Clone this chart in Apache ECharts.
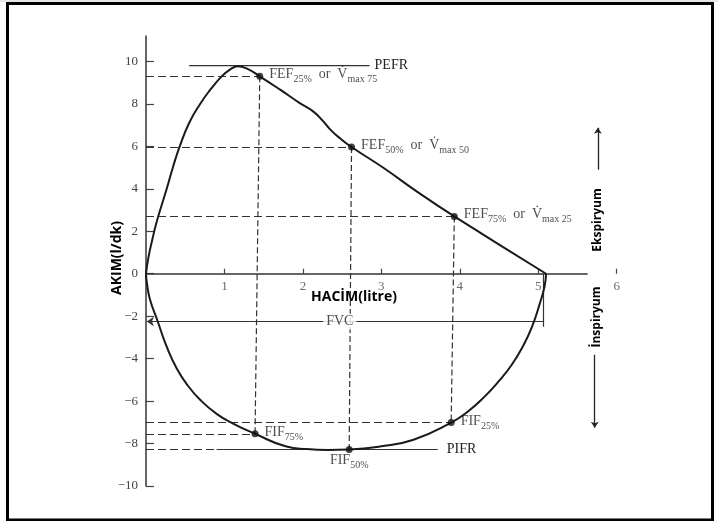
<!DOCTYPE html>
<html>
<head>
<meta charset="utf-8">
<script src="https://cdn.jsdelivr.net/npm/echarts@6/dist/echarts.min.js"></script>
<style>html,body{margin:0;padding:0;background:#fff}#c{width:718px;height:521px}</style>
</head>
<body>
<div id="c"></div>
<script>
// ---- data (volume in litres, flow) ----
const expiratory = [[0,0],[0.03,0.75],[0.08,1.6],[0.14,2.5],[0.264,4.0],[0.35,5.1],[0.43,6.0],[0.55,7.1],[0.69,8.0],[0.82,8.67],[0.965,9.3],[1.07,9.62],[1.17,9.78],[1.30,9.64],[1.45,9.30],[1.71,8.67],[1.96,8.04],[2.13,7.65],[2.26,7.18],[2.35,6.79],[2.47,6.39],[2.62,5.97],[3.03,4.98],[3.45,3.88],[3.93,2.70],[5.1,0]];
const inspiratory = [[0,0],[0.01,-0.4],[0.05,-1.2],[0.15,-2.25],[0.26,-3.4],[0.39,-4.45],[0.54,-5.3],[0.69,-5.94],[0.9,-6.6],[1.11,-7.06],[1.39,-7.54],[1.79,-8.14],[2.05,-8.26],[2.32,-8.3],[2.59,-8.28],[2.98,-8.14],[3.41,-7.82],[3.89,-7.01],[4.1,-6.5],[4.3,-5.85],[4.5,-5.05],[4.66,-4.3],[4.8,-3.45],[4.92,-2.5],[5.02,-1.4],[5.08,-0.6],[5.1,0]];
const fefPoints = [[1.45,9.30],[2.62,5.97],[3.93,2.70]];
const fefPct = ['25%','50%','75%'];
const fefVmax = ['max 75','max 50','max 25'];
const fifPoints = [[1.39,-7.54],[2.59,-8.28],[3.89,-7.01]];
const fifPct = ['75%','50%','25%'];
const pefrLine = [[0.55,9.8],[2.85,9.8]];
const pifrLine = [[0.9,-8.28],[3.72,-8.28]];
const fvcLine = [[0.01,-2.25],[5.07,-2.25]];
const fvcEnd = [[5.07,0],[5.07,-2.5]];
const fvcLabelAt = [2.47,-2.25];
const xAxisLine = [[0,0],[5.63,0]];
const expArrow = [[5.76,4.9],[5.76,6.88]];
const inspArrow = [[5.72,-3.82],[5.72,-7.26]];
const xTicks = [1,2,3,4,5,6];
const yTicks = [-10,-8,-6,-4,-2,0,2,4,6,8,10];

const SERIF = 'Liberation Serif';
const INK = '#1a1a1a';

const hDash = [], vDash = [];
fefPoints.forEach((p,i)=>{ hDash.push({coords:[[0,p[1]],p]}); vDash.push({coords:[p,fifPoints[i]]}); });
fifPoints.forEach(p=>{ hDash.push({coords:[[0,p[1]],p]}); });

const rich = {
  m:{fontFamily:SERIF,fontSize:14,color:'#222',lineHeight:14,verticalAlign:'top'},
  s:{fontFamily:SERIF,fontSize:10,color:'#222',lineHeight:24}
};

const chart = echarts.init(document.getElementById('c'));
chart.setOption({
  backgroundColor:'#fff',
  animation:false,
  grid:{left:146,right:101.3,top:36,bottom:35},
  xAxis:{type:'value',min:0,max:6,
    axisLine:{show:true,onZero:true,lineStyle:{color:'rgba(0,0,0,0)'}},
    axisTick:{show:true,inside:true,length:5,customValues:xTicks,lineStyle:{color:'#444',width:1.2}},
    axisLabel:{show:false},
    splitLine:{show:false}},
  yAxis:{type:'value',min:-10,max:11.2,
    axisLine:{show:true,lineStyle:{color:'#333',width:1.5}},
    axisTick:{show:true,inside:true,length:8,customValues:yTicks,lineStyle:{color:'#444',width:1.2}},
    axisLabel:{customValues:yTicks,margin:8,fontFamily:SERIF,fontSize:13,color:'#444',
      formatter:v=>v<0?'\u2212'+(-v):String(v)},
    splitLine:{show:false}},
  series:[
    {type:'lines',coordinateSystem:'cartesian2d',data:hDash,symbol:'none',z:2,
      lineStyle:{color:'#333',width:1.2,type:[8,4],opacity:1}},
    {type:'lines',coordinateSystem:'cartesian2d',data:vDash,symbol:'none',z:2,
      lineStyle:{color:'#333',width:1.2,type:[6,3],opacity:1}},
    {type:'lines',coordinateSystem:'cartesian2d',data:[{coords:xAxisLine}],symbol:'none',z:3,
      lineStyle:{color:'#333',width:1.5,opacity:1}},
    {type:'scatter',data:xTicks.map(v=>[v,0]),symbolSize:0,z:4,silent:true,
      label:{show:true,position:'bottom',distance:6,formatter:p=>String(p.value[0]),
        fontFamily:SERIF,fontSize:13,color:'#444'}},
    {type:'line',data:pefrLine,showSymbol:false,symbol:'none',z:3,
      lineStyle:{color:'#333',width:1.2},
      endLabel:{show:true,formatter:'PEFR',distance:5,fontFamily:SERIF,fontSize:14,color:'#222'}},
    {type:'line',data:pifrLine,showSymbol:false,symbol:'none',z:3,
      lineStyle:{color:'#333',width:1.2},
      endLabel:{show:true,formatter:'PIFR',distance:9,fontFamily:SERIF,fontSize:14,color:'#222'}},
    {type:'lines',coordinateSystem:'cartesian2d',data:[{coords:fvcLine}],symbol:['arrow','none'],symbolSize:7,z:3,
      lineStyle:{color:'#333',width:1.2,opacity:1}},
    {type:'lines',coordinateSystem:'cartesian2d',data:[{coords:fvcEnd}],symbol:'none',z:3,
      lineStyle:{color:'#333',width:1.2,opacity:1}},
    {type:'scatter',data:[fvcLabelAt],symbolSize:0,z:6,
      label:{show:true,position:'inside',formatter:'FVC',fontFamily:SERIF,fontSize:14,color:'#222',
        backgroundColor:'#fff',padding:[1,3]}},
    {type:'line',data:expiratory,smooth:0.5,symbol:'none',z:5,lineStyle:{color:INK,width:2}},
    {type:'line',data:inspiratory,smooth:0.5,symbol:'none',z:5,lineStyle:{color:INK,width:2}},
    {type:'scatter',symbolSize:7,z:7,itemStyle:{color:'#111'},
      data:fefPoints.map((p,i)=>({value:p,label:{formatter:'{m|FEF}{s|'+fefPct[i]+'}{m|  or  V\u0307}{s|'+fefVmax[i]+'}'}})),
      label:{show:true,position:'right',distance:6,offset:[0,3],rich:rich}},
    {type:'scatter',symbolSize:7,z:7,itemStyle:{color:'#111'},
      data:fifPoints.map((p,i)=>{
        const lab = {formatter:'{m|FIF}{s|'+fifPct[i]+'}'};
        if(i===1){lab.position='bottom';lab.distance=0;lab.offset=[0,0];}
        return {value:p,label:lab};
      }),
      label:{show:true,position:'right',distance:6,offset:[0,4],rich:rich}},
    {type:'lines',coordinateSystem:'cartesian2d',data:[{coords:expArrow},{coords:inspArrow}],
      symbol:['none','arrow'],symbolSize:6,z:3,lineStyle:{color:'#222',width:1.3,opacity:1}}
  ],
  graphic:[
    {type:'rect',shape:{x:0,y:0,width:718,height:2},style:{fill:'#e6e6e6'},silent:true},
    {type:'rect',shape:{x:7.5,y:3.5,width:705,height:516.5},style:{fill:null,stroke:'#000',lineWidth:3},silent:true,z:100},
    {type:'text',x:354,y:297.5,style:{text:'HACİM(litre)',font:'bold 14px "Open Sans"',fill:'#000',align:'center',verticalAlign:'middle'}},
    {type:'text',x:116.7,y:258,rotation:Math.PI/2,style:{text:'AKIM(l/dk)',font:'bold 14px "Open Sans"',fill:'#000',align:'center',verticalAlign:'middle'}},
    {type:'text',x:598,y:220,rotation:Math.PI/2,style:{text:'Ekspiryum',font:'bold 12px "Open Sans"',fill:'#000',align:'center',verticalAlign:'middle'}},
    {type:'text',x:597,y:317,rotation:Math.PI/2,style:{text:'İnspiryum',font:'bold 12px "Open Sans"',fill:'#000',align:'center',verticalAlign:'middle'}}
  ]
});
</script>
</body>
</html>
